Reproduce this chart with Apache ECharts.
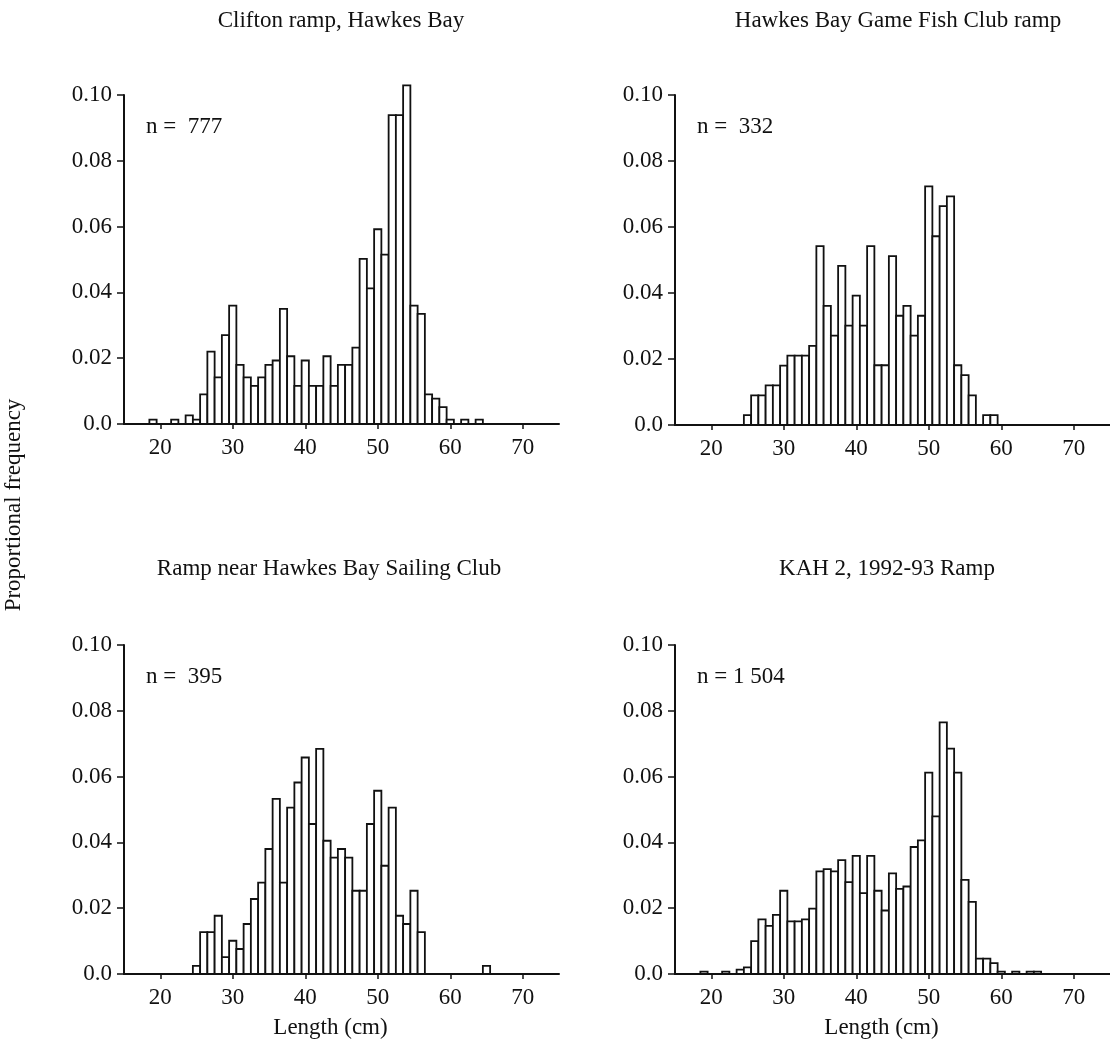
<!DOCTYPE html>
<html>
<head>
<meta charset="utf-8">
<title>Length frequency by ramp</title>
<script src="https://cdn.jsdelivr.net/npm/echarts@6/dist/echarts.min.js"></script>
<style>
  html, body { margin: 0; padding: 0; background: #fff; }
  #chart { width: 1110px; height: 1050px; }
</style>
</head>
<body>
<div id="chart"></div>
<script>
// 1 cm length classes shared by all four panels
const lengthBins = [18, 19, 20, 21, 22, 23, 24, 25, 26, 27, 28, 29, 30, 31, 32, 33, 34, 35, 36, 37, 38, 39, 40, 41, 42,
                    43, 44, 45, 46, 47, 48, 49, 50, 51, 52, 53, 54, 55, 56, 57, 58, 59, 60, 61, 62, 63, 64, 65, 66];

// Proportional frequency per length class
const clifton = [0, 0.0013, 0, 0, 0.0013, 0, 0.0026, 0.0013, 0.009, 0.022, 0.0142, 0.027, 0.036, 0.018, 0.0142, 0.0116,
                 0.0142, 0.018, 0.0193, 0.035, 0.0206, 0.0116, 0.0193, 0.0116, 0.0116, 0.0206, 0.0116, 0.018, 0.018, 0.0232,
                 0.0502, 0.0412, 0.0592, 0.0515, 0.0939, 0.0939, 0.1029, 0.036, 0.0335, 0.009, 0.0077, 0.0051, 0.0013, 0,
                 0.0013, 0, 0.0013, 0, 0];
const gameFishClub = [0, 0, 0, 0, 0, 0, 0, 0.003, 0.009, 0.009, 0.012, 0.012, 0.018, 0.021, 0.021, 0.021, 0.024, 0.0542,
                      0.0361, 0.0271, 0.0482, 0.0301, 0.0392, 0.0301, 0.0542, 0.0181, 0.0181, 0.0512, 0.0331, 0.0361, 0.0271,
                      0.0331, 0.0723, 0.0572, 0.0663, 0.0693, 0.0181, 0.0151, 0.009, 0, 0.003, 0.003, 0, 0, 0, 0, 0, 0, 0];
const sailingClub = [0, 0, 0, 0, 0, 0, 0, 0.0025, 0.0127, 0.0127, 0.0177, 0.0051, 0.0101, 0.0076, 0.0152, 0.0228, 0.0278,
                     0.038, 0.0532, 0.0278, 0.0506, 0.0582, 0.0658, 0.0456, 0.0684, 0.0405, 0.0354, 0.038, 0.0354, 0.0253,
                     0.0253, 0.0456, 0.0557, 0.0329, 0.0506, 0.0177, 0.0152, 0.0253, 0.0127, 0, 0, 0, 0, 0, 0, 0, 0, 0.0025, 0];
const kah2 = [0, 0.0007, 0, 0, 0.0007, 0, 0.0013, 0.002, 0.01, 0.0166, 0.0146, 0.018, 0.0253, 0.016, 0.016, 0.0166, 0.0199,
              0.0312, 0.0319, 0.0312, 0.0346, 0.0279, 0.0359, 0.0246, 0.0359, 0.0253, 0.0193, 0.0306, 0.0259, 0.0266, 0.0386,
              0.0406, 0.0612, 0.0479, 0.0765, 0.0685, 0.0612, 0.0286, 0.0219, 0.0047, 0.0047, 0.0033, 0.0007, 0, 0.0007, 0,
              0.0007, 0.0007, 0];

const panelTitles = ['Clifton ramp, Hawkes Bay', 'Hawkes Bay Game Fish Club ramp',
                     'Ramp near Hawkes Bay Sailing Club', 'KAH 2, 1992-93 Ramp'];
const sampleSizes = ['n =  777', 'n =  332', 'n =  395', 'n = 1 504'];
const xTickValues = [20, 30, 40, 50, 60, 70];
const panelSeries = [clifton, gameFishClub, sailingClub, kah2];

const FONT = '"Liberation Serif", "Times New Roman", serif';
const FS = 23;
const INK = '#111';

// panel frames: [left, top, width, height]
const frames = [
  [124, 95, 435, 329],
  [675, 95, 436, 330],
  [124, 645, 435, 329],
  [675, 645, 436, 329]
];
const titleX = [336, 893, 324, 882];
const titleY = [4, 4, 552, 552];

function renderBin(params, api) {
  const len = api.value(0);
  const v = api.value(1);
  if (!v) return null;
  const topLeft = api.coord([len - 0.5, v]);
  const bottomRight = api.coord([len + 0.5, 0]);
  return {
    type: 'rect',
    shape: {
      x: topLeft[0],
      y: topLeft[1],
      width: bottomRight[0] - topLeft[0],
      height: bottomRight[1] - topLeft[1]
    },
    style: { fill: '#fff', stroke: INK, lineWidth: 1.8 }
  };
}

const grids = [], xAxes = [], yAxes = [], series = [], titles = [], graphics = [];

frames.forEach(function (f, i) {
  grids.push({ left: f[0], top: f[1], width: f[2], height: f[3], containLabel: false });
  xAxes.push({
    type: 'value',
    gridIndex: i,
    min: 15,
    max: 75,
    splitLine: { show: false },
    axisLine: { show: true, onZero: false, lineStyle: { color: INK, width: 2 } },
    axisTick: { show: true, customValues: xTickValues, length: 5, lineStyle: { color: INK, width: 1.5 } },
    axisLabel: { customValues: xTickValues, margin: 12, color: INK, fontFamily: FONT, fontSize: FS },
    name: i >= 2 ? 'Length (cm)' : '',
    nameLocation: 'middle',
    nameGap: 42,
    nameTextStyle: { color: INK, fontFamily: FONT, fontSize: FS, padding: [0, 22, 0, 0] }
  });
  yAxes.push({
    type: 'value',
    gridIndex: i,
    min: 0,
    max: 0.1,
    interval: 0.02,
    splitLine: { show: false },
    axisLine: { show: true, lineStyle: { color: INK, width: 2 } },
    axisTick: { show: true, length: 7, lineStyle: { color: INK, width: 1.5 } },
    axisLabel: {
      margin: 12,
      color: INK,
      fontFamily: FONT,
      fontSize: FS,
      formatter: function (v) { return v === 0 ? '0.0' : v.toFixed(2); }
    }
  });
  series.push({
    type: 'custom',
    xAxisIndex: i,
    yAxisIndex: i,
    renderItem: renderBin,
    encode: { x: 0, y: 1 },
    data: lengthBins.map(function (len, k) { return [len, panelSeries[i][k]]; })
  });
  titles.push({
    text: panelTitles[i],
    left: titleX[i],
    top: titleY[i],
    textAlign: 'center',
    textStyle: { fontFamily: FONT, fontSize: FS, fontWeight: 'normal', color: INK }
  });
  graphics.push({
    type: 'text',
    left: f[0] + 22,
    top: f[1] + 20,
    style: { text: sampleSizes[i], font: FS + 'px ' + FONT, fill: INK }
  });
});

graphics.push({
  type: 'text',
  x: 14,
  y: 505,
  rotation: Math.PI / 2,
  style: {
    text: 'Proportional frequency',
    font: FS + 'px ' + FONT,
    fill: INK,
    align: 'center',
    verticalAlign: 'middle'
  }
});

const chart = echarts.init(document.getElementById('chart'), null, { renderer: 'canvas' });
chart.setOption({
  backgroundColor: '#fff',
  animation: false,
  title: titles,
  grid: grids,
  xAxis: xAxes,
  yAxis: yAxes,
  series: series,
  graphic: graphics
});
</script>
</body>
</html>
